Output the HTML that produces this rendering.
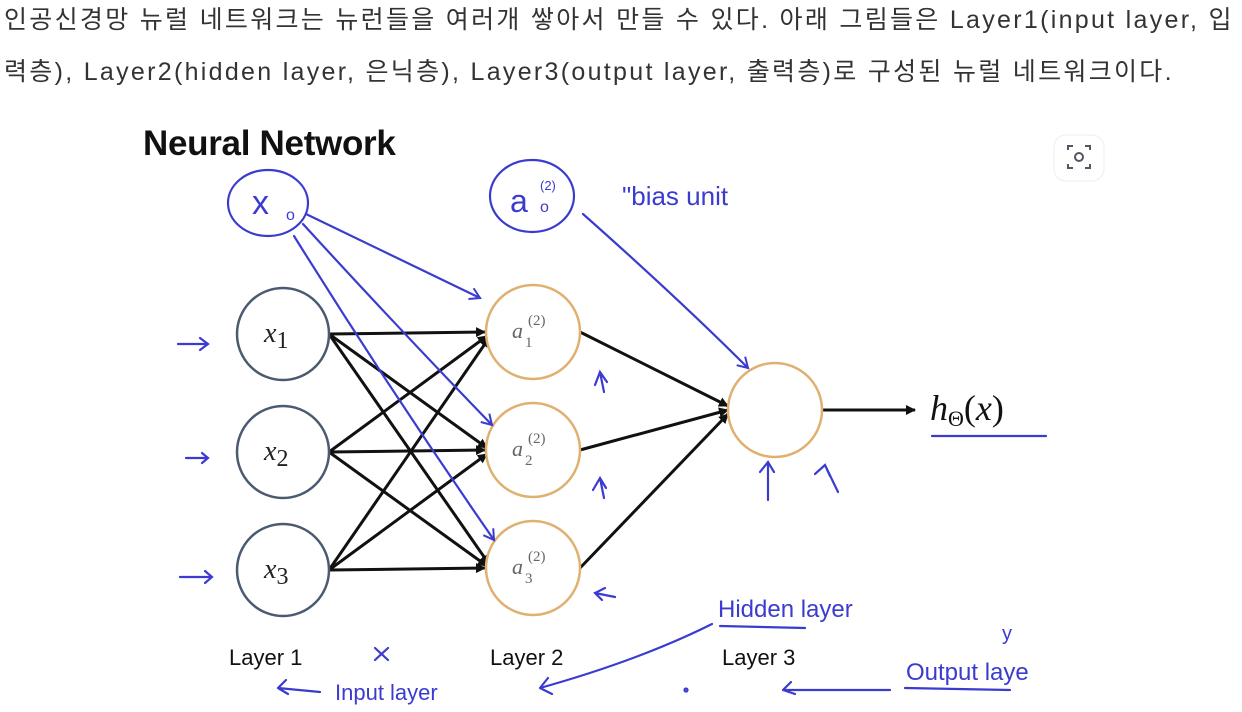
<!DOCTYPE html>
<html><head><meta charset="utf-8"><style>
body{margin:0;width:1242px;height:712px;background:#fff;overflow:hidden;position:relative;font-family:"Liberation Sans","Noto Sans CJK KR",sans-serif}
.t{position:absolute;left:4px;font-size:25px;color:#333;white-space:nowrap;letter-spacing:2.3px;line-height:30px}
svg{position:absolute;left:0;top:0}
</style></head><body>
<div class="t" style="top:5px">인공신경망 뉴럴 네트워크는 뉴런들을 여러개 쌓아서 만들 수 있다. 아래 그림들은 Layer1(input layer, 입</div>
<div class="t" style="top:57px">력층), Layer2(hidden layer, 은닉층), Layer3(output layer, 출력층)로 구성된 뉴럴 네트워크이다.</div>
<svg width="1242" height="712" viewBox="0 0 1242 712">
<defs>
<marker id="ah" markerWidth="10" markerHeight="10" refX="9" refY="5" orient="auto" markerUnits="userSpaceOnUse" viewBox="0 0 10 10"><path d="M0,0 L10,5 L0,10 z" fill="#111"/></marker>
<marker id="bh" markerWidth="14" markerHeight="14" refX="12" refY="7" orient="auto" markerUnits="userSpaceOnUse" viewBox="0 0 14 14"><path d="M2,1 L12,7 L2,13" fill="none" stroke="#3b3bd0" stroke-width="2"/></marker>
</defs>
<text x="143" y="155" font-size="35" font-weight="bold" fill="#111" font-family="Liberation Sans,sans-serif" letter-spacing="-0.3">Neural Network</text>
<g stroke="#111" stroke-width="3" marker-end="url(#ah)">
<line x1="329" y1="334" x2="485" y2="332"/><line x1="329" y1="334" x2="487" y2="448"/><line x1="329" y1="334" x2="489" y2="564"/>
<line x1="329" y1="452" x2="487" y2="336"/><line x1="329" y1="452" x2="485" y2="450"/><line x1="329" y1="452" x2="487" y2="566"/>
<line x1="329" y1="570" x2="489" y2="338"/><line x1="329" y1="570" x2="487" y2="454"/><line x1="329" y1="570" x2="485" y2="568"/>
<line x1="580" y1="332" x2="728" y2="406"/><line x1="580" y1="450" x2="728" y2="410"/><line x1="580" y1="568" x2="728" y2="414"/>
<line x1="822" y1="410" x2="915" y2="410"/>
</g>
<g fill="#fff" stroke-width="2.5">
<circle cx="283" cy="334" r="46" stroke="#4a5a70"/><circle cx="283" cy="452" r="46" stroke="#4a5a70"/><circle cx="283" cy="570" r="46" stroke="#4a5a70"/>
<circle cx="533" cy="332" r="47" stroke="#e0b070"/><circle cx="533" cy="450" r="47" stroke="#e0b070"/><circle cx="533" cy="568" r="47" stroke="#e0b070"/>
<circle cx="775" cy="410" r="47" stroke="#e0b070"/>
</g>
<g font-family="Liberation Serif,serif" font-style="italic" fill="#222">
<text x="264" y="342" font-size="28">x<tspan font-style="normal" font-size="24" dy="6">1</tspan></text>
<text x="264" y="460" font-size="28">x<tspan font-style="normal" font-size="24" dy="6">2</tspan></text>
<text x="264" y="578" font-size="28">x<tspan font-style="normal" font-size="24" dy="6">3</tspan></text>
<text x="512" y="338" font-size="22" fill="#666">a</text><text x="528" y="325" font-size="15" font-style="normal" fill="#666">(2)</text><text x="525" y="347" font-size="15" font-style="normal" fill="#666">1</text>
<text x="512" y="456" font-size="22" fill="#666">a</text><text x="528" y="443" font-size="15" font-style="normal" fill="#666">(2)</text><text x="525" y="465" font-size="15" font-style="normal" fill="#666">2</text>
<text x="512" y="574" font-size="22" fill="#666">a</text><text x="528" y="561" font-size="15" font-style="normal" fill="#666">(2)</text><text x="525" y="583" font-size="15" font-style="normal" fill="#666">3</text>
<text x="930" y="420" font-size="36" fill="#111">h<tspan font-style="normal" font-size="22" dy="6">Θ</tspan><tspan font-style="normal" dy="-6">(</tspan>x<tspan font-style="normal">)</tspan></text>
</g>
<g font-family="Liberation Sans,sans-serif" font-size="22" fill="#111">
<text x="229" y="665">Layer 1</text><text x="490" y="665">Layer 2</text><text x="722" y="665">Layer 3</text>
</g>
<g fill="none" stroke="#3b3bd0" stroke-width="2.2" stroke-linecap="round">
<ellipse cx="268" cy="203" rx="40" ry="33"/>
<ellipse cx="532" cy="196" rx="42" ry="36"/>
<line x1="932" y1="436" x2="1046" y2="436"/>
<path d="M306 214 L480 298" marker-end="url(#bh)"/>
<path d="M303 224 Q400 330 492 425" marker-end="url(#bh)"/>
<path d="M294 236 Q390 390 494 540" marker-end="url(#bh)"/>
<path d="M583 214 Q680 300 748 368" marker-end="url(#bh)"/>
<path d="M178 344 L208 344 M200 338 L208 344 L200 350"/>
<path d="M186 458 L208 458 M202 453 L208 458 L202 463"/>
<path d="M180 577 L212 577 M205 571 L212 577 L205 583"/>
<path d="M595 385 L600 372 L607 382 M600 372 L604 392"/>
<path d="M593 490 L600 478 L606 488 M600 478 L604 498"/>
<path d="M605 588 L595 593 L602 600 M595 593 L615 597"/>
<path d="M760 472 L768 462 L774 472 M768 462 L768 500"/>
<path d="M815 474 L825 465 L830 476 M825 465 L838 492"/>
<path d="M278 688 L286 680 M278 688 L288 694 M278 688 L320 692"/>
<path d="M540 688 L548 678 M540 688 L552 694 M540 688 Q640 660 712 624"/>
<path d="M783 690 L791 682 M783 690 L795 694 M783 690 L890 690"/>
<path d="M375 648 L388 660 M388 648 L375 660"/>
<circle cx="686" cy="690" r="1.5"/>
<line x1="720" y1="626" x2="805" y2="628"/>
<line x1="905" y1="688" x2="1010" y2="690"/>
</g>
<g font-family="Liberation Sans,sans-serif" fill="#3b3bd0" font-size="24">
<text x="252" y="214" font-size="34">x</text><text x="286" y="220" font-size="16">o</text>
<text x="510" y="212" font-size="32">a</text><text x="540" y="190" font-size="13">(2)</text><text x="540" y="212" font-size="16">o</text>
<text x="622" y="205" font-size="26">"bias  unit</text>
<text x="718" y="617" font-size="24">Hidden layer</text>
<text x="335" y="700" font-size="22">Input layer</text>
<text x="906" y="680" font-size="24">Output  laye</text>
<text x="1002" y="640" font-size="20">y</text>
</g>
<rect x="1054" y="135" width="50" height="46" rx="12" fill="#fff" stroke="#eee"/>
<g fill="none" stroke="#556" stroke-width="2">
<path d="M1068 150 v-4 h5 M1085 146 h5 v4 M1090 164 v4 h-5 M1073 168 h-5 v-4"/>
<circle cx="1079" cy="157" r="4"/>
</g>
</svg>
</body></html>
